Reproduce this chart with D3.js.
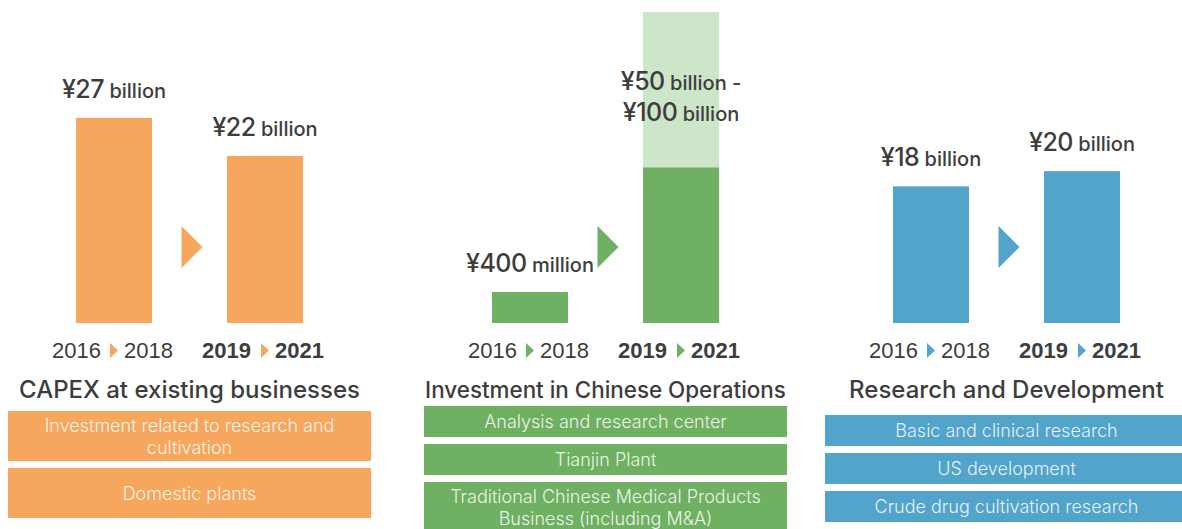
<!DOCTYPE html>
<html>
<head>
<meta charset="utf-8">
<script src="https://cdn.jsdelivr.net/npm/d3@7/dist/d3.min.js"></script>
<style>
    body { margin: 0; background: #fff; }
    svg { display: block; }
    .big { font-family: "Liberation Sans", Helvetica, Arial, sans-serif; fill: #3d3d3d; }
    .val { font-family: Inter, "Liberation Sans", sans-serif; font-weight: 500; fill: #3d3d3d; }
    .ttl { font-family: Inter, "Liberation Sans", sans-serif; font-weight: 500; fill: #3d3d3d; }
    .item { font-family: Inter, "Liberation Sans", sans-serif; font-weight: 300; }
</style>
</head>
<body>
<svg id="chart" width="1182" height="529"></svg>
<script>

// --------------------------------------
// Data
// --------------------------------------

var periods = ["2016-2018", "2019-2021"];
var periodYears = [["2016", "2018"], ["2019", "2021"]];

var titles = ["CAPEX at existing businesses", "Investment in Chinese Operations", "Research and Development"];

// values in billion yen
var capexValues = [27, 22];
var chinaValues = [0.4, 50];
var chinaUpper = 100;          // upper end of the 2019-2021 range
var rdValues = [18, 20];

var capexLabels = [["¥27", " billion"], ["¥22", " billion"]];
var chinaLabels = [["¥400", " million"], ["¥50", " billion -"], ["¥100", " billion"]];
var rdLabels = [["¥18", " billion"], ["¥20", " billion"]];

var capexItems = [["Investment related to research and", "cultivation"], ["Domestic plants"]];
var chinaItems = [["Analysis and research center"], ["Tianjin Plant"], ["Traditional Chinese Medical Products", "Business (including M&A)"]];
var rdItems = [["Basic and clinical research"], ["US development"], ["Crude drug cultivation research"]];

// --------------------------------------
// Layout
// --------------------------------------

var svg = d3.select("#chart");
var baseY = 323;

var panels = [
    {offset: 0, color: "#f7a75d", light: null, values: capexValues, labels: capexLabels,
     items: capexItems, boxTop: 411, boxH: 50, title: titles[0], titleSize: 24},
    {offset: 416, color: "#70b062", light: "#cde6ca", values: chinaValues, labels: chinaLabels,
     items: chinaItems, boxTop: 406, boxH: 31, title: titles[1], titleSize: 22.4},
    {offset: 817, color: "#52a4ca", light: null, values: rdValues, labels: rdLabels,
     items: rdItems, boxTop: 415, boxH: 31, title: titles[2], titleSize: 24}
];

// left & right panels share one scale, the middle one has its own
var yMain = d3.scaleLinear().domain([0, 27]).range([baseY, 118]);
var yChina = d3.scaleLinear().domain([0, chinaUpper]).range([baseY, 12]);
var minBarPx = 31;   // the tiny ¥400 million bar is drawn at a visible height

panels.forEach(function(p, pi) {
    var g = svg.append("g").attr("transform", "translate(" + p.offset + ",0)");
    var x = d3.scaleBand().domain(periods).range([76, 303]).paddingInner(0.4967).paddingOuter(0);
    var y = pi == 1 ? yChina : yMain;
    var bw = x.bandwidth();
    var mid = 189.5;

    // light range part (middle panel only)
    if (p.light) {
        g.append("rect")
            .attr("x", x(periods[1])).attr("width", bw)
            .attr("y", y(chinaUpper)).attr("height", baseY - y(chinaUpper))
            .attr("fill", p.light);
    }

    // bars
    g.selectAll("rect.bar").data(p.values).enter().append("rect")
        .attr("class", "bar")
        .attr("x", function(d, i) { return x(periods[i]); })
        .attr("width", bw)
        .attr("y", function(d) { return Math.min(y(d), baseY - minBarPx); })
        .attr("height", function(d) { return Math.max(baseY - y(d), minBarPx); })
        .attr("fill", p.color);

    // value labels
    p.values.forEach(function(d, i) {
        var cx = x(periods[i]) + bw / 2;
        var top = Math.min(y(d), baseY - minBarPx);
        var lines = (pi == 1 && i == 1) ? [p.labels[1], p.labels[2]] : [p.labels[i]];
        lines.forEach(function(l, li) {
            var ly = lines.length > 1 ? top - 78 + li * 31 : top - 20;
            var t = g.append("text").attr("class", "val")
                .attr("x", cx).attr("y", ly)
                .attr("text-anchor", "middle");
            t.append("tspan").attr("font-size", 25).attr("letter-spacing", -0.5).text(l[0]);
            t.append("tspan").attr("font-size", 20).text(l[1]);
        });
    });

    // big arrow between the bars
    g.append("path")
        .attr("d", "M" + (mid - 8) + ",226 L" + (mid + 13) + ",247 L" + (mid - 8) + ",268 Z")
        .attr("fill", p.color);

    // year ranges
    periodYears.forEach(function(yrs, i) {
        var cx = x(periods[i]) + bw / 2;
        var bold = i == 1;
        g.append("text").attr("class", "big")
            .attr("x", cx - (bold ? 14 : 13)).attr("y", 358)
            .attr("text-anchor", "end").attr("font-size", 22)
            .attr("font-weight", bold ? "bold" : "normal")
            .text(yrs[0]);
        g.append("path")
            .attr("d", "M" + (cx - 4) + ",343 L" + (cx + 4) + ",350.5 L" + (cx - 4) + ",358 Z")
            .attr("fill", p.color);
        g.append("text").attr("class", "big")
            .attr("x", cx + 10).attr("y", 358)
            .attr("font-size", 22)
            .attr("font-weight", bold ? "bold" : "normal")
            .text(yrs[1]);
    });

    // panel title
    g.append("text").attr("class", "ttl")
        .attr("x", mid).attr("y", 398)
        .attr("text-anchor", "middle")
        .attr("font-size", p.titleSize)
        .text(p.title);

    // item boxes
    var boxH = function(it) { return it.length > 1 ? 50 : p.boxH; };
    var yy = p.boxTop;
    p.items.forEach(function(it) {
        var h = boxH(it);
        g.append("rect")
            .attr("x", mid - 181.5).attr("width", 363)
            .attr("y", yy).attr("height", h)
            .attr("fill", p.color);
        it.forEach(function(line, li) {
            var ty = it.length > 1 ? yy + 21 + li * 22 : yy + h / 2 + 6.5;
            g.append("text").attr("class", "item")
                .attr("x", mid).attr("y", ty)
                .attr("text-anchor", "middle")
                .attr("font-size", 18)
                .attr("fill", "#fff").attr("fill-opacity", 0.88)
                .text(line);
        });
        yy += h + 7;
    });
});

</script>
</body>
</html>
